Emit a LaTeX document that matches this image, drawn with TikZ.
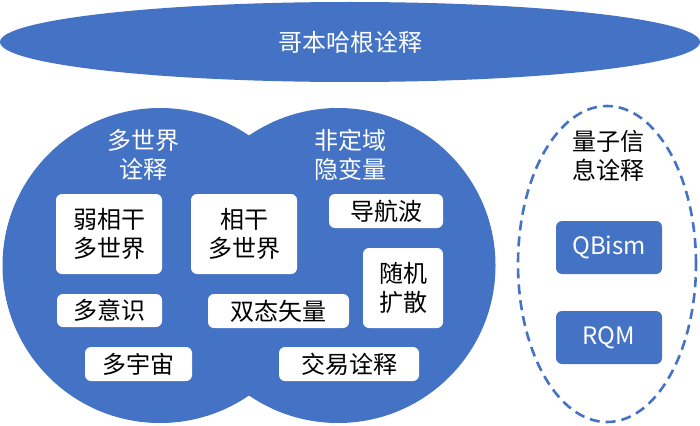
\documentclass[tikz,border=0pt]{standalone}
\usepackage{fontspec}
\setmainfont{Noto Sans CJK SC}
\usetikzlibrary{shapes.geometric}
\definecolor{office}{HTML}{4472C4}

\begin{document}
\begin{tikzpicture}[x=1pt, y=-1pt, inner sep=0pt, font=\fontsize{24}{29}\selectfont]
\tikzstyle{blob}=[circle, fill=office, minimum size=315pt]
\tikzstyle{lbl}=[text=white, align=center]
\tikzstyle{item}=[fill=white, rounded corners=6pt, align=center]
\tikzstyle{qitem}=[fill=office, text=white, rounded corners=6pt, minimum width=106pt, minimum height=53pt]
\useasboundingbox (0,0) rectangle (700,425);

% the big one on top
\node[ellipse, fill=office, text=white, minimum width=700pt, minimum height=80pt] (cph) at (350,42) {哥本哈根诠释};

% two overlapping families
\node[blob] (mwi) at (160,265.5) {};
\node[blob] (nlhv) at (338,265.5) {};
\node[lbl] (mwilbl) at (143,155) {多世界\\诠释};
\node[lbl] (nlhvlbl) at (350,155) {非定域\\隐变量};

\node[item, minimum width=106pt, minimum height=80pt] (weak) at (109,234) {弱相干\\多世界};
\node[item, minimum width=106pt, minimum height=80pt] (coh) at (244,234) {相干\\多世界};
\node[item, minimum width=114pt, minimum height=34pt] (pilot) at (386,211) {导航波};
\node[item, minimum width=80pt, minimum height=80pt] (stoch) at (403,288) {随机\\扩散};
\node[item, minimum width=105pt, minimum height=33pt] (mind) at (109.5,310.5) {多意识};
\node[item, minimum width=141pt, minimum height=34pt] (tsv) at (278.5,311) {双态矢量};
\node[item, minimum width=107pt, minimum height=34pt] (multi) at (138.5,364) {多宇宙};
\node[item, minimum width=140pt, minimum height=34pt] (tiqm) at (349,364) {交易诠释};

% information based ones
\node[ellipse, draw=office, line width=2.6pt, dash pattern=on 10pt off 6pt, minimum width=178pt, minimum height=316pt] (qinfo) at (607,264) {};
\node[align=center] (qinfolbl) at (608,156) {量子信\\息诠释};
\node[qitem] (qbism) at (609,247.5) {QBism};
\node[qitem] (rqm) at (609,337.5) {RQM};
\end{tikzpicture}
\end{document}
